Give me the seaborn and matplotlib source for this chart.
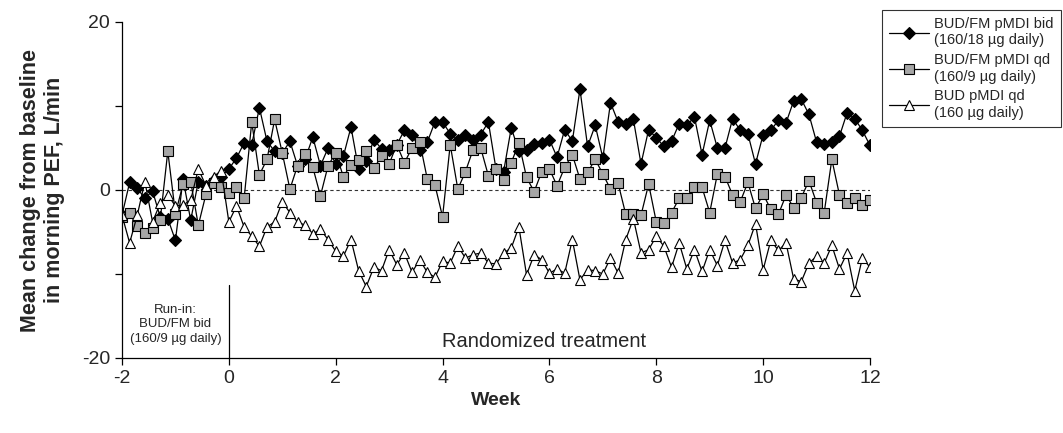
import numpy as np
import pandas as pd
import seaborn as sns
import matplotlib
matplotlib.use("Agg")
import matplotlib.pyplot as plt
from matplotlib.lines import Line2D

# ---- data ----
days = np.arange(-14, 85)
weeks = days / 7.0

bid_vals = [-3.0, 0.9, 0.2, -1.0, -0.1, -3.2, -3.4, -6.0, 1.3, -3.6,
            1.0, 0.5, 1.2, 1.6, 2.5, 3.8, 5.6, 5.4, 9.8, 5.8,
            4.6, 4.4, 5.8, 2.9, 3.7, 6.3, 2.9, 5.0, 3.1, 4.0,
            7.5, 2.5, 3.4, 6.0, 4.9, 4.8, 5.4, 7.1, 6.6, 4.8,
            5.7, 8.1, 8.1, 6.7, 6.0, 6.6, 6.0, 6.6, 8.1, 2.5,
            2.2, 7.4, 4.6, 4.8, 5.5, 5.6, 6.0, 3.9, 7.2, 5.8,
            12.0, 5.2, 7.7, 3.8, 10.4, 8.1, 7.9, 8.4, 3.1, 7.2,
            6.2, 5.2, 5.8, 7.9, 7.7, 8.7, 4.2, 8.3, 5.0, 5.0,
            8.5, 7.1, 6.7, 3.1, 6.6, 7.1, 8.3, 8.0, 10.6, 10.8,
            9.0, 5.7, 5.5, 5.7, 6.4, 9.2, 8.5, 7.1, 5.3]

qd_vals = [-3.25, -2.7, -4.3, -5.1, -4.5, -3.6, 4.6, -2.8, 0.7, 1.0, -4.2, -0.5, 0.8, 0.4,
           -0.4, 0.3, -1.0, 8.1, 1.8, 3.65, 8.4, 4.4, 0.1, 2.9, 4.3, 2.7, -0.7, 2.9,
           4.4, 1.6, 3.0, 3.6, 4.6, 2.6, 4.0, 3.1, 5.4, 3.25, 5.0, 5.75, 1.3, 0.6, -3.2, 5.4,
           0.1, 2.2, 4.8, 5.0, 1.7, 2.5,
           1.2, 3.25, 5.6, 1.5, -0.2, 2.2, 2.5, 0.5, 2.7, 4.2, 1.3, 2.1, 3.65, 1.9, 0.1, 0.8,
           -2.9, -2.9, -3.0, 0.7, -3.8, -3.9, -2.7, -1.0, -1.0,
           0.3, 0.3, -2.7, 1.9, 1.6, -0.6, -1.4, 0.9, -2.2, -0.5, -2.3, -2.9, -0.6, -2.1,
           -0.9, 1.1, -1.5, -2.7, 3.65, -0.6, -1.5, -0.9, -1.8, -1.2]

bud_vals = [-3.0, -6.3, -3.0, 1.0, -3.8, -1.6, -0.6, -1.9, -1.8, -1.2, 2.5, 0.5, 1.6, 2.3,
            -3.8, -1.9, -4.4, -5.5, -6.7, -4.4, -3.8, -1.4, -2.7, -3.8, -4.2, -5.2, -4.7, -5.9,
            -7.3, -7.9, -5.9, -9.6, -11.5, -9.2, -9.6, -7.1, -8.9, -7.5, -9.8, -8.3, -9.8,
            -10.4, -8.5, -8.7, -6.7, -8.1, -7.7, -7.5, -8.7, -8.8,
            -7.5, -6.9, -4.4, -10.1, -7.7, -8.3, -9.9, -9.4, -9.9, -5.9, -10.7, -9.5, -9.6,
            -10.0, -8.1, -9.9, -5.9, -3.4, -7.5, -7.1, -5.5, -6.7, -9.2, -6.3, -9.4,
            -7.1, -9.7, -7.1, -9.0, -6.0, -8.7, -8.3, -6.6, -4.0, -9.5, -6.0, -7.2, -6.3,
            -10.6, -10.9, -8.7, -7.9, -8.7, -6.6, -9.4, -7.5, -12.0, -8.1, -9.2]

labels = ["BUD/FM pMDI bid\n(160/18 µg daily)",
          "BUD/FM pMDI qd\n(160/9 µg daily)",
          "BUD pMDI qd\n(160 µg daily)"]

x_ticks = [-2, 0, 2, 4, 6, 8, 10, 12]
y_ticks = [-20, 0, 20]

# ---- style ----
sns.set_theme(style="ticks")
plt.rcParams['font.family'] = ['Liberation Sans', 'DejaVu Sans']
plt.rcParams['axes.unicode_minus'] = False

fig = plt.figure(figsize=(10.63, 4.33), dpi=100)
ax = fig.add_axes([122 / 1063, 75 / 433, 748 / 1063, 336 / 433])

series = [
    (bid_vals, 'D', 'black', 6.0),
    (qd_vals, 's', '#a6a6a6', 6.8),
    (bud_vals, '^', 'white', 7.2),
]

ax.axhline(0, color='#333333', lw=0.8, ls=(0, (3, 2.5)), zorder=1)

handles = []
for (vals, mk, fc, ms), lab in zip(series, labels):
    df = pd.DataFrame({"week": weeks, "val": vals})
    sns.lineplot(data=df, x="week", y="val", ax=ax, color='black', lw=0.9,
                 marker=mk, markersize=ms, markerfacecolor=fc,
                 markeredgecolor='black', markeredgewidth=0.8, legend=False)
    handles.append(Line2D([], [], color='black', lw=0.9, marker=mk, markersize=ms,
                          markerfacecolor=fc, markeredgecolor='black',
                          markeredgewidth=0.8, label=lab))

ax.set_xlim(-2, 12)
ax.set_ylim(-20, 20)
ax.set_xticks(x_ticks)
ax.set_yticks(y_ticks)
ax.set_yticks([-10, 10], minor=True)
ax.tick_params(axis='both', which='both', direction='out', length=5, width=0.9,
               labelsize=14, color='black')
ax.tick_params(axis='y', which='minor', length=5)
for s in ['top', 'right']:
    ax.spines[s].set_visible(False)
for s in ['left', 'bottom']:
    ax.spines[s].set_color('black')
    ax.spines[s].set_linewidth(0.9)

ax.set_xlabel("Week", fontsize=14, fontweight='bold', labelpad=4)
ax.set_ylabel("Mean change from baseline\nin morning PEF, L/min", fontsize=15.5,
              fontweight='bold', labelpad=12)

# run-in marker and annotations
ax.plot([0, 0], [-20, -11.3], color='black', lw=0.9)
ax.text(-1.0, -16.0, "Run-in:\nBUD/FM bid\n(160/9 µg daily)", ha='center', va='center',
        fontsize=9.5, linespacing=1.25)
ax.text(5.9, -18.0, "Randomized treatment", ha='center', va='center', fontsize=14.5)

leg = fig.legend(handles=handles, loc='upper left', bbox_to_anchor=(882 / 1063, 1 - 10 / 433),
                 frameon=True, fancybox=False, edgecolor='black', fontsize=10.5,
                 handlelength=2.7, borderpad=0.5, labelspacing=0.4, handletextpad=0.4,
                 borderaxespad=0.0)
leg.get_frame().set_linewidth(0.8)

fig.savefig("out.png", dpi=100)
